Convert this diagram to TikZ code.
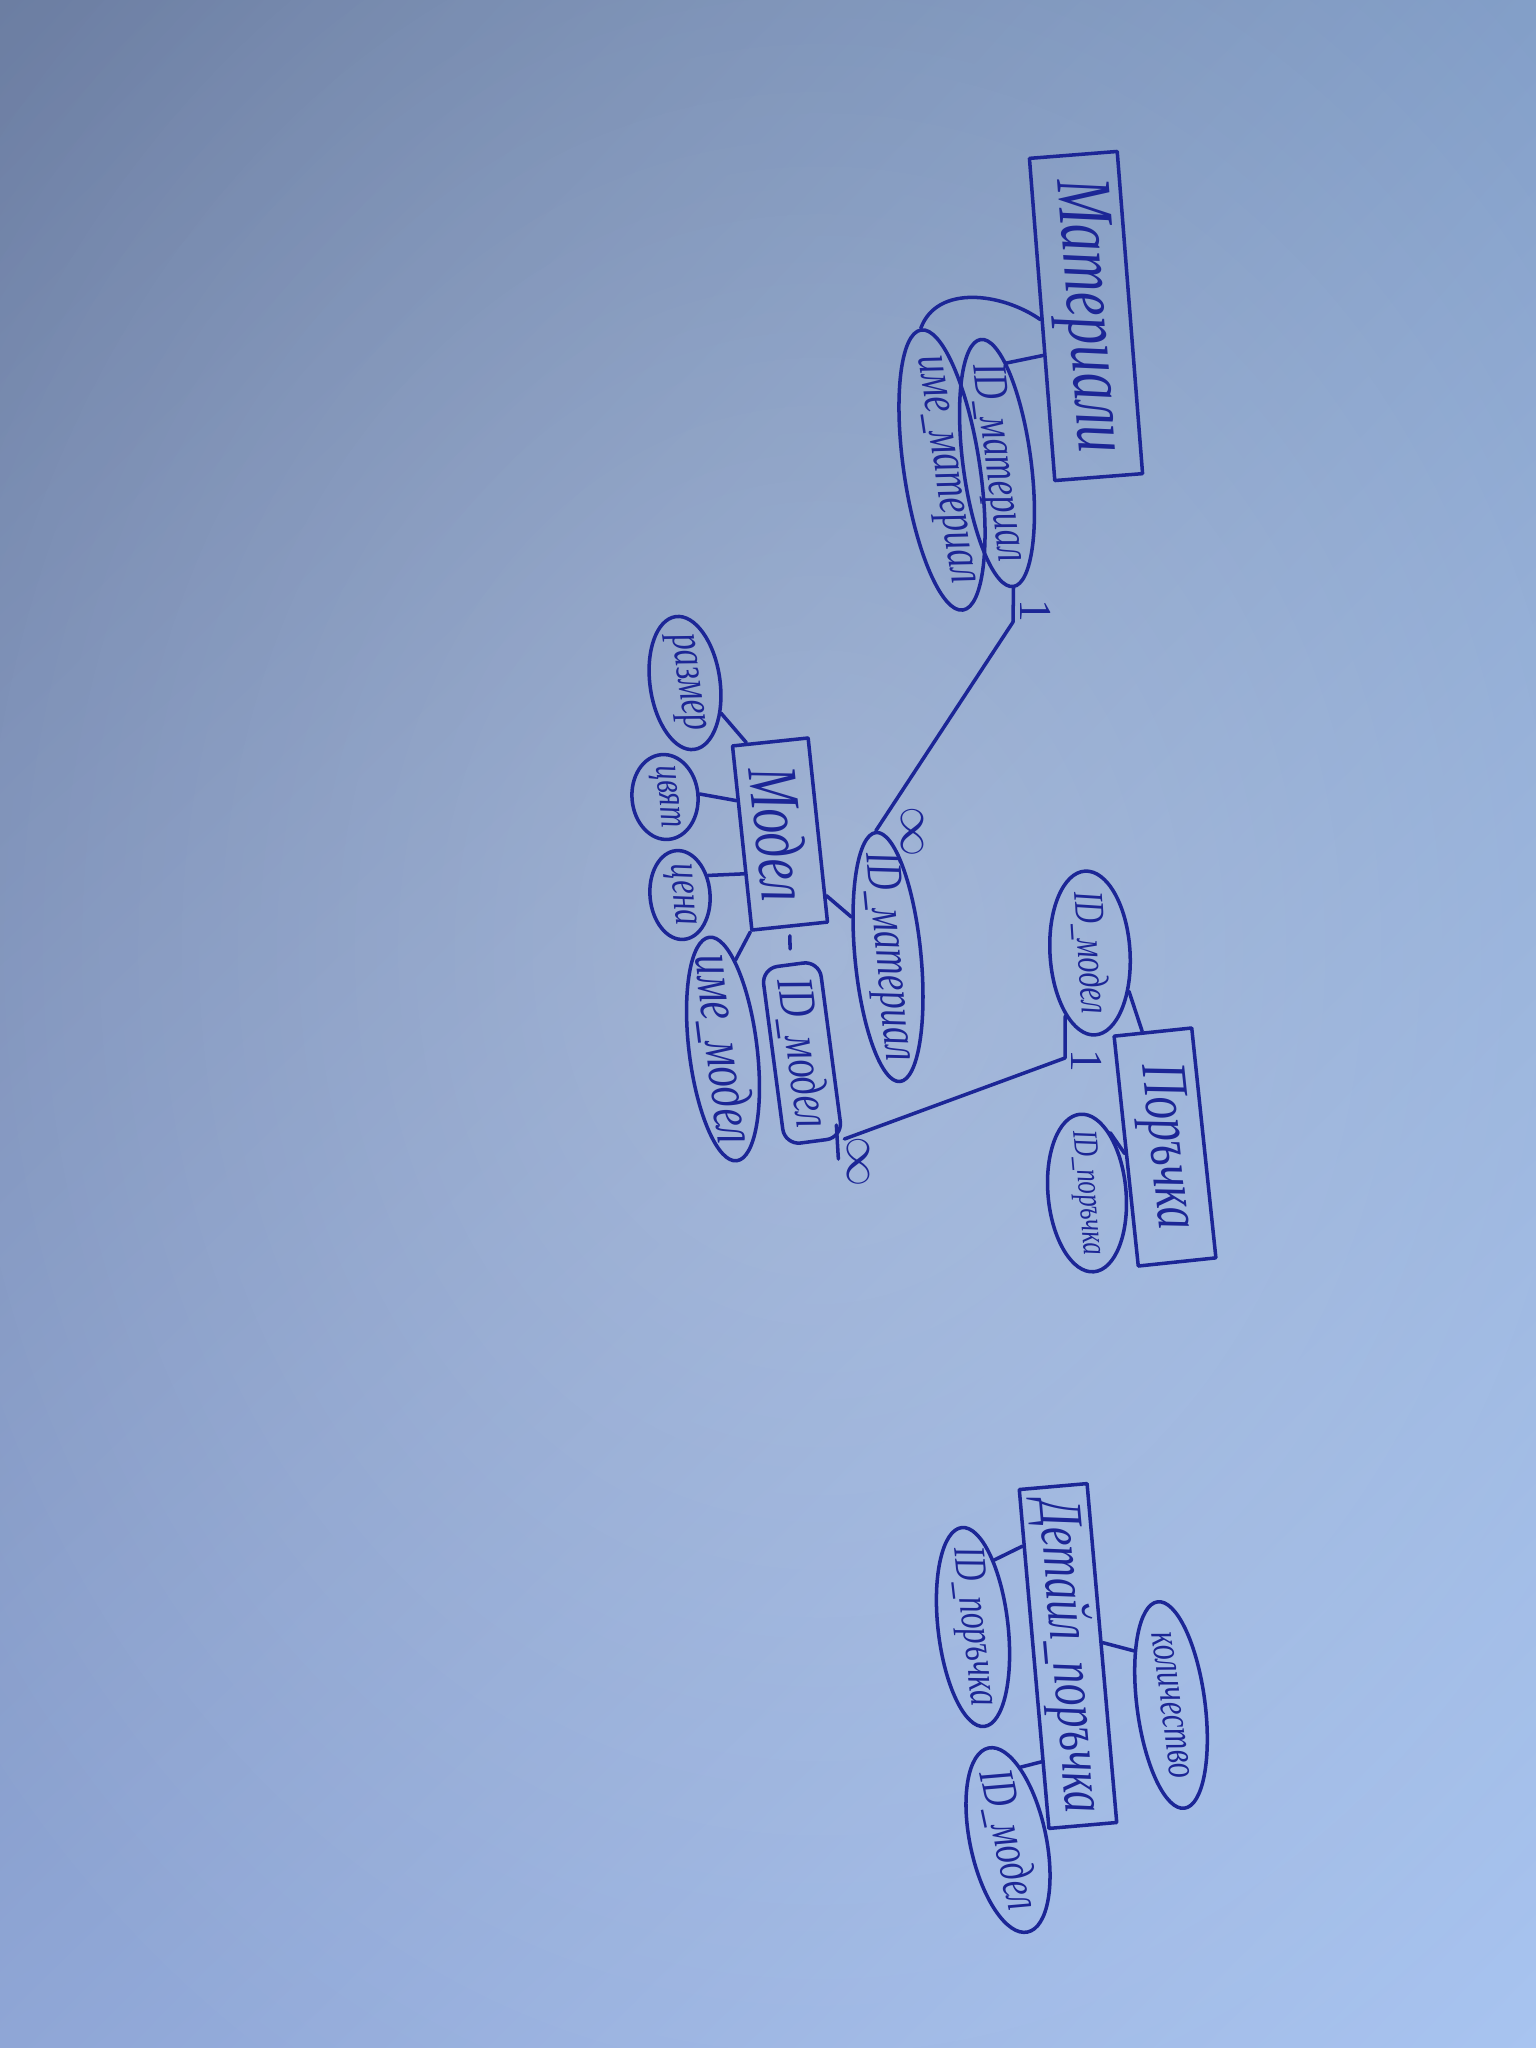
\documentclass[tikz,border=0pt]{standalone}
\usepackage{fontspec}
\usetikzlibrary{shapes.geometric,calc,fadings,shadings}
\newfontfamily\handfont{Liberation Serif}
\definecolor{ink}{RGB}{28,38,150}
\definecolor{paperUL}{RGB}{108,126,162}
\definecolor{paperUR}{RGB}{130,158,200}
\definecolor{paperLL}{RGB}{143,166,214}
\definecolor{paperLR}{RGB}{168,196,240}
% soft round glow for the lit middle of the sheet
\tikzfading[name=glowfade, inner color=transparent!0, outer color=transparent!100]
% word set to a given length, a little taller than the font draws it
\newcommand{\hand}[2]{\resizebox{#1}{!}{\scalebox{1}[1.4]{#2}}}

\begin{document}
\begin{tikzpicture}[x=0.01cm, y=-0.01cm,
  pen/.style={draw=ink, line width=1pt, line cap=round, line join=round},
  entity/.style={pen, rectangle, inner sep=0pt},
  attrib/.style={pen, ellipse, inner sep=0pt},
  keybox/.style={pen, rectangle, rounded corners=0.16cm, inner sep=0pt},
  word/.style={text=ink, inner sep=0pt, font=\handfont\itshape},
  card/.style={text=ink, inner sep=0pt, font=\handfont\fontsize{13}{13}\selectfont, rotate=-90},
  infin/.style={text=ink, inner sep=0pt, font=\fontsize{15}{15}\selectfont, rotate=-90},
]
% paper
\useasboundingbox (0,0) rectangle (1536,2048);
\shade[upper left=paperUL, upper right=paperUR, lower left=paperLL, lower right=paperLR]
  (0,0) rectangle (1536,2048);
\fill[white, fill opacity=0.22, path fading=glowfade]
  (820,950) ellipse (1100 and 1350);

% ---------- Материали ----------
\node[entity, minimum width=0.88cm, minimum height=3.23cm, rotate=4.5] (mat) at (1086,316) {};
\node[word, rotate=-85.5] (mat-t) at (mat) {\hand{2.75cm}{Материали}};
\node[attrib, minimum width=0.68cm, minimum height=2.49cm, rotate=7.5] (idmat1) at (997,463) {};
\node[word, rotate=-82.5] (idmat1-t) at (idmat1) {\hand{2.0cm}{ID\_материал}};
\node[attrib, minimum width=0.76cm, minimum height=2.83cm, rotate=8.5] (imemat) at (942,470) {};
\node[word, rotate=-81.5] (imemat-t) at (imemat) {\hand{2.3cm}{име\_материал}};

% ---------- Модел ----------
\node[entity, minimum width=0.76cm, minimum height=1.85cm, rotate=6] (model) at (780,834) {};
\node[word, rotate=-84] (model-t) at (model) {\hand{1.35cm}{Модел}};
\node[attrib, minimum width=0.70cm, minimum height=1.34cm, rotate=8] (razmer) at (685,683) {};
\node[word, rotate=-82] (razmer-t) at (razmer) {\hand{0.98cm}{размер}};
\node[attrib, minimum width=0.66cm, minimum height=0.85cm, rotate=5] (tsvyat) at (665,797) {};
\node[word, rotate=-85] (tsvyat-t) at (tsvyat) {\hand{0.62cm}{цвят}};
\node[attrib, minimum width=0.60cm, minimum height=0.89cm, rotate=5] (tsena) at (680,895) {};
\node[word, rotate=-85] (tsena-t) at (tsena) {\hand{0.62cm}{цена}};
\node[attrib, minimum width=0.68cm, minimum height=2.25cm, rotate=7] (imemodel) at (723,1049) {};
\node[word, rotate=-83] (imemodel-t) at (imemodel) {\hand{1.9cm}{име\_модел}};
\node[keybox, minimum width=0.58cm, minimum height=1.78cm, rotate=7.5] (idmod1) at (802,1053) {};
\node[word, rotate=-82.5] (idmod1-t) at (idmod1) {\hand{1.5cm}{ID\_модел}};
\node[attrib, minimum width=0.66cm, minimum height=2.50cm, rotate=5.5] (idmat2) at (888,957) {};
\node[word, rotate=-84.5] (idmat2-t) at (idmat2) {\hand{2.1cm}{ID\_материал}};

% ---------- Поръчка ----------
\node[entity, minimum width=0.78cm, minimum height=2.31cm, rotate=6] (por) at (1165,1147) {};
\node[word, rotate=-84] (por-t) at (por) {\hand{1.67cm}{Поръчка}};
\node[attrib, minimum width=0.80cm, minimum height=1.64cm, rotate=3.5] (idmod2) at (1090,953) {};
\node[word, rotate=-86.5] (idmod2-t) at (idmod2) {\hand{1.22cm}{ID\_модел}};
\node[attrib, minimum width=0.78cm, minimum height=1.58cm, rotate=5] (idpor1) at (1087,1193) {};
\node[word, rotate=-85] (idpor1-t) at (idpor1) {\hand{1.25cm}{ID\_поръчка}};

% ---------- Детайл_поръчка ----------
\node[entity, minimum width=0.68cm, minimum height=3.40cm, rotate=5] (det) at (1068,1656) {};
\node[word, rotate=-85] (det-t) at (det) {\hand{3.15cm}{Детайл\_поръчка}};
\node[attrib, minimum width=0.70cm, minimum height=2.00cm, rotate=6.5] (idpor2) at (973,1627) {};
\node[word, rotate=-83.5] (idpor2-t) at (idpor2) {\hand{1.6cm}{ID\_поръчка}};
\node[attrib, minimum width=0.68cm, minimum height=2.08cm, rotate=7.4] (kol) at (1171,1705) {};
\node[word, rotate=-82.6] (kol-t) at (kol) {\hand{1.47cm}{количество}};
\node[attrib, minimum width=0.76cm, minimum height=1.88cm, rotate=12] (idmod3) at (1008,1840) {};
\node[word, rotate=-78] (idmod3-t) at (idmod3) {\hand{1.42cm}{ID\_модел}};

% ---------- attribute stubs ----------
\draw[pen] (mat.west) to[out=145, in=70] (imemat.north);
\draw[pen] (idmat1.77) -- ($(mat.north west)!0.61!(mat.south west)$);
\draw[pen] (razmer.-48) -- ($(model.north west)!0.2!(model.north east)$);
\draw[pen] (tsvyat.east) -- ($(model.north west)!0.3!(model.south west)$);
\draw[pen] (tsena.30) -- ($(model.north west)!0.69!(model.south west)$);
\draw[pen] (imemodel.75) -- (model.south west);
\draw[pen, shorten <=0.08cm, shorten >=0.14cm] (model.south) -- (idmod1.north);
\draw[pen] (model.-59) -- (idmat2.127);
\draw[pen] (idmod2.-48) -- ($(por.north west)!0.37!(por.north east)$);
\draw[pen] (idpor1.64) -- ($(por.north west)!0.51!(por.south west)$);
\draw[pen] (idpor2.66) -- ($(det.north west)!0.17!(det.south west)$);
\draw[pen] (kol.117) -- ($(det.north east)!0.47!(det.south east)$);
\draw[pen] (idmod3.68) -- ($(det.north west)!0.80!(det.south west)$);

% ---------- relationships ----------
\coordinate (bendA) at (1013,622);
\draw[pen] (idmat1.south) -- (bendA) -- (idmat2.north);
\node[card] (cardA1) at (1036,611) {1};
\node[infin] (cardAn) at (912,832) {$\infty$};

\coordinate (bendB) at (1065,1058);
\draw[pen] (idmod1.south east) -- (bendB) -- (idmod2.-115);
\draw[pen] ($(idmod1.south east)+(-8,-14)$) -- ++(2,34);
\node[infin] (cardBn) at (858,1162) {$\infty$};
\node[card] (cardB1) at (1087,1061) {1};
\end{tikzpicture}
\end{document}
